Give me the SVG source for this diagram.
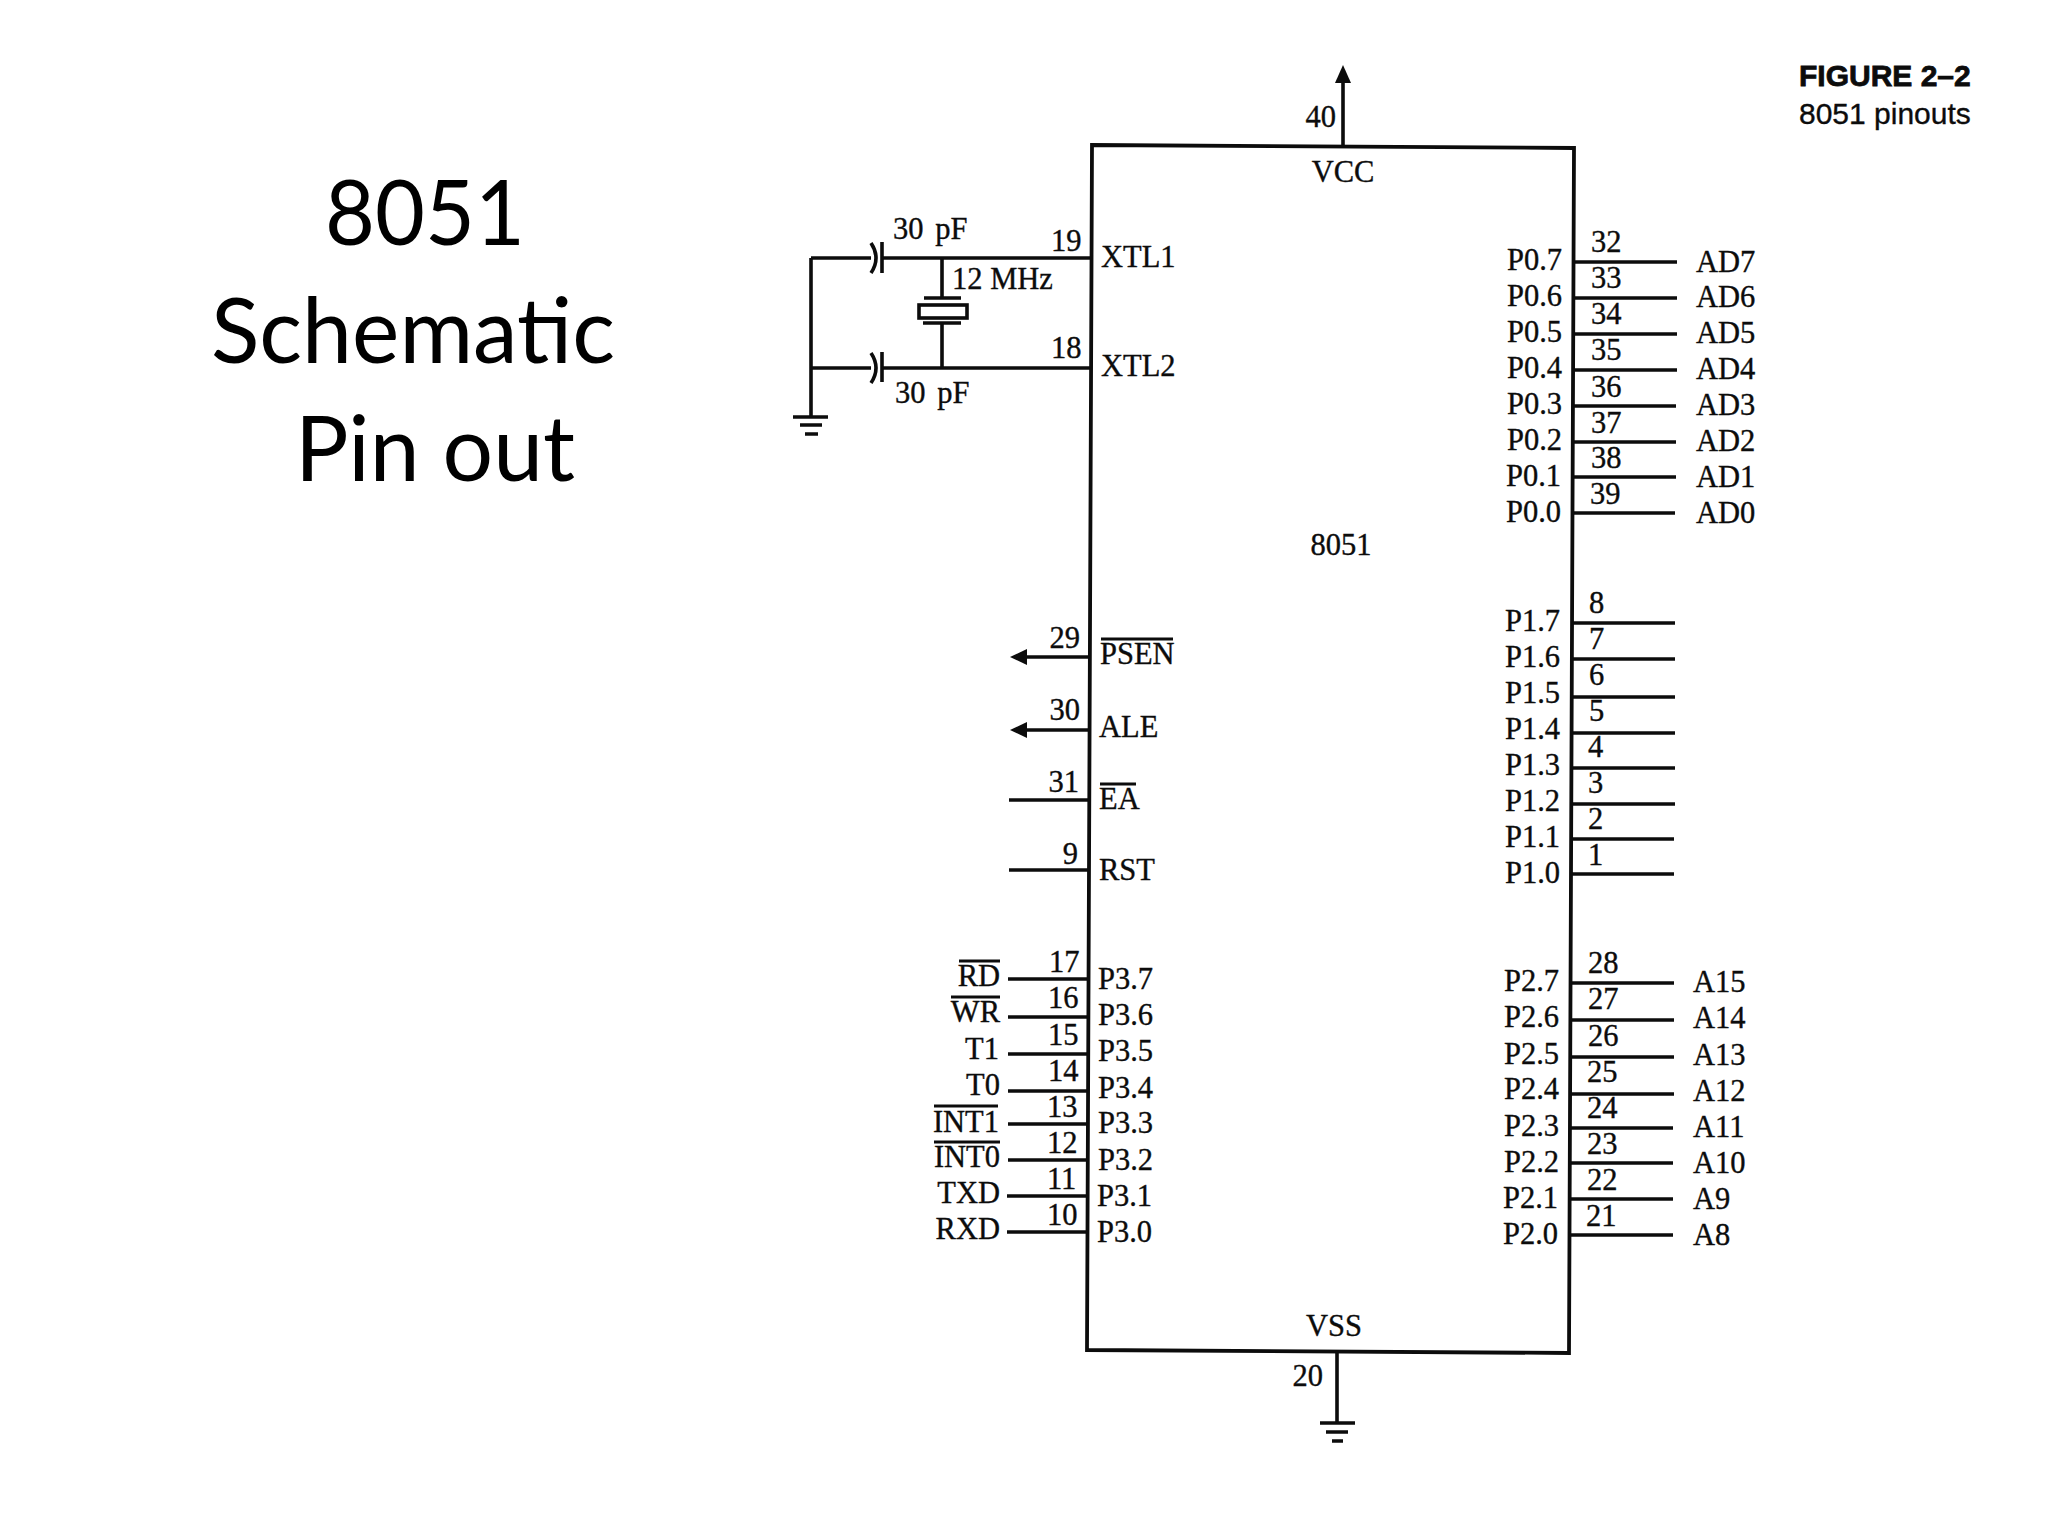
<svg xmlns="http://www.w3.org/2000/svg" width="2048" height="1536" viewBox="0 0 2048 1536">
<style>
text{font-family:"Liberation Serif","Times New Roman",serif;font-size:30.5px;fill:#0c0c0c;stroke:#0c0c0c;stroke-width:.35}
.e{text-anchor:end}
.m{text-anchor:middle}
.t{font-family:Lato,"Noto Sans",sans-serif;font-size:92px;fill:#000;stroke:none}
.c{font-family:"Liberation Sans",Arial,sans-serif;font-size:30px}
.b{font-weight:bold;stroke-width:.8}
line,path{stroke:#0c0c0c;stroke-width:3.6;fill:none}
rect{stroke:#0c0c0c;stroke-width:3.6;fill:#fff}
.a{fill:#0c0c0c;stroke:none}
.o{stroke-width:3.2}
</style>
<rect width="2048" height="1536" fill="#fff" style="stroke:none"/>
<g id="title">
<text class="t m" x="425" y="245" textLength="200" lengthAdjust="spacingAndGlyphs">8051</text>
<text class="t" x="211" y="363" textLength="404" lengthAdjust="spacingAndGlyphs">Schematic</text>
<text class="t" x="295" y="481" textLength="280" lengthAdjust="spacingAndGlyphs">Pin out</text>
</g>
<g id="caption">
<text class="c b" x="1799" y="86">FIGURE 2–2</text>
<text class="c" x="1799" y="124">8051 pinouts</text>
</g>
<g id="connectors">
<path d="M1343 145V80"/><path class="a" d="M1343 65l8 18h-16z"/>
<path d="M811 258H871M882 258H1091M811 417V258M811 368H871M882 368H1090M942 258V298M942 323V368"/>
<path d="M1337 1352V1423"/>
<line x1="1089" y1="657" x2="1025" y2="657"/><path class="a" d="M1010 657l17-8v16z"/>
<line x1="1089" y1="730" x2="1025" y2="730"/><path class="a" d="M1010 730l17-8v16z"/>
<line x1="1089" y1="800" x2="1009" y2="800"/>
<line x1="1089" y1="870" x2="1009" y2="870"/>
<line x1="1088" y1="979" x2="1008" y2="979"/>
<line x1="1088" y1="1017" x2="1008" y2="1017"/>
<line x1="1088" y1="1054" x2="1008" y2="1054"/>
<line x1="1088" y1="1091" x2="1008" y2="1091"/>
<line x1="1088" y1="1124" x2="1008" y2="1124"/>
<line x1="1088" y1="1160" x2="1008" y2="1160"/>
<line x1="1088" y1="1196" x2="1007" y2="1196"/>
<line x1="1088" y1="1232" x2="1007" y2="1232"/>
<line x1="1574" y1="262" x2="1677" y2="262"/>
<line x1="1574" y1="298" x2="1677" y2="298"/>
<line x1="1574" y1="334" x2="1677" y2="334"/>
<line x1="1574" y1="370" x2="1677" y2="370"/>
<line x1="1574" y1="406" x2="1676" y2="406"/>
<line x1="1573" y1="442" x2="1676" y2="442"/>
<line x1="1573" y1="477" x2="1676" y2="477"/>
<line x1="1573" y1="513" x2="1675" y2="513"/>
<line x1="1572" y1="623" x2="1675" y2="623"/>
<line x1="1572" y1="659" x2="1675" y2="659"/>
<line x1="1572" y1="697" x2="1675" y2="697"/>
<line x1="1572" y1="733" x2="1675" y2="733"/>
<line x1="1572" y1="768" x2="1675" y2="768"/>
<line x1="1572" y1="804" x2="1675" y2="804"/>
<line x1="1572" y1="839" x2="1674" y2="839"/>
<line x1="1572" y1="874" x2="1674" y2="874"/>
<line x1="1570" y1="983" x2="1674" y2="983"/>
<line x1="1570" y1="1020" x2="1674" y2="1020"/>
<line x1="1570" y1="1057" x2="1674" y2="1057"/>
<line x1="1570" y1="1094" x2="1674" y2="1094"/>
<line x1="1570" y1="1128" x2="1673" y2="1128"/>
<line x1="1570" y1="1163" x2="1673" y2="1163"/>
<line x1="1570" y1="1199" x2="1673" y2="1199"/>
<line x1="1570" y1="1235" x2="1673" y2="1235"/>
</g>
<g id="chip">
<path style="stroke-width:3.8" d="M1092 145L1574 148L1569 1353L1087 1350Z"/>
<text class="m" x="1343" y="182">VCC</text>
<text class="e" x="1336" y="127">40</text>
<text class="m" x="1341" y="555">8051</text>
<text class="m" x="1334" y="1336">VSS</text>
<text class="e" x="1323" y="1386">20</text>
<text x="1051" y="251">19</text><text x="1101" y="267">XTL1</text>
<text x="1051" y="358">18</text><text x="1101" y="376">XTL2</text>
<text class="e" x="1080" y="648">29</text><text x="1100" y="664">PSEN</text><line class="o" x1="1101" y1="639" x2="1173" y2="639"/>
<text class="e" x="1080" y="720">30</text><text x="1099" y="737">ALE</text>
<text class="e" x="1079" y="792">31</text><text x="1099" y="809">EA</text><line class="o" x1="1100" y1="784" x2="1136" y2="784"/>
<text class="e" x="1078" y="864">9</text><text x="1099" y="880">RST</text>
<text x="1049" y="972">17</text><text x="1098" y="989">P3.7</text><text class="e" x="1000" y="986">RD</text><line class="o" x1="959" y1="961" x2="1000" y2="961"/>
<text x="1048" y="1008">16</text><text x="1098" y="1025">P3.6</text><text class="e" x="1000" y="1022">WR</text><line class="o" x1="951" y1="997" x2="1000" y2="997"/>
<text x="1048" y="1045">15</text><text x="1098" y="1061">P3.5</text><text class="e" x="999" y="1059">T1</text>
<text x="1048" y="1081">14</text><text x="1098" y="1098">P3.4</text><text class="e" x="1000" y="1095">T0</text>
<text x="1047" y="1117">13</text><text x="1098" y="1133">P3.3</text><text class="e" x="999" y="1132">INT1</text><line class="o" x1="934" y1="1106" x2="998" y2="1106"/>
<text x="1047" y="1153">12</text><text x="1098" y="1170">P3.2</text><text class="e" x="1000" y="1167">INT0</text><line class="o" x1="934" y1="1142" x2="1000" y2="1142"/>
<text x="1047" y="1189">11</text><text x="1097" y="1206">P3.1</text><text class="e" x="1000" y="1203">TXD</text>
<text x="1047" y="1225">10</text><text x="1097" y="1242">P3.0</text><text class="e" x="1000" y="1239">RXD</text>
<text x="1591" y="252">32</text><text x="1507" y="270">P0.7</text><text x="1696" y="272">AD7</text>
<text x="1591" y="288">33</text><text x="1507" y="306">P0.6</text><text x="1696" y="307">AD6</text>
<text x="1591" y="324">34</text><text x="1507" y="342">P0.5</text><text x="1696" y="343">AD5</text>
<text x="1591" y="360">35</text><text x="1507" y="378">P0.4</text><text x="1696" y="379">AD4</text>
<text x="1591" y="397">36</text><text x="1507" y="414">P0.3</text><text x="1696" y="415">AD3</text>
<text x="1591" y="433">37</text><text x="1507" y="450">P0.2</text><text x="1696" y="451">AD2</text>
<text x="1591" y="468">38</text><text x="1506" y="486">P0.1</text><text x="1696" y="487">AD1</text>
<text x="1590" y="504">39</text><text x="1506" y="522">P0.0</text><text x="1696" y="523">AD0</text>
<text x="1589" y="613">8</text><text x="1505" y="631">P1.7</text>
<text x="1589" y="649">7</text><text x="1505" y="667">P1.6</text>
<text x="1589" y="685">6</text><text x="1505" y="703">P1.5</text>
<text x="1589" y="721">5</text><text x="1505" y="739">P1.4</text>
<text x="1588" y="757">4</text><text x="1505" y="775">P1.3</text>
<text x="1588" y="793">3</text><text x="1505" y="811">P1.2</text>
<text x="1588" y="829">2</text><text x="1505" y="847">P1.1</text>
<text x="1588" y="865">1</text><text x="1505" y="883">P1.0</text>
<text x="1588" y="973">28</text><text x="1504" y="991">P2.7</text><text x="1693" y="992">A15</text>
<text x="1588" y="1009">27</text><text x="1504" y="1027">P2.6</text><text x="1693" y="1028">A14</text>
<text x="1588" y="1046">26</text><text x="1504" y="1064">P2.5</text><text x="1693" y="1065">A13</text>
<text x="1587" y="1082">25</text><text x="1504" y="1099">P2.4</text><text x="1693" y="1101">A12</text>
<text x="1587" y="1118">24</text><text x="1504" y="1136">P2.3</text><text x="1693" y="1137">A11</text>
<text x="1587" y="1154">23</text><text x="1504" y="1172">P2.2</text><text x="1693" y="1173">A10</text>
<text x="1587" y="1190">22</text><text x="1503" y="1208">P2.1</text><text x="1693" y="1209">A9</text>
<text x="1586" y="1226">21</text><text x="1503" y="1244">P2.0</text><text x="1693" y="1245">A8</text>
</g>
<g id="crystal">
<path d="M924 298H961M923 323H961"/>
<rect x="919" y="305" width="48" height="13"/>
<text x="952" y="289">12 MHz</text>
</g>
<g id="cap-c1">
<path d="M871 243Q881 258 871 273M882 242V273"/>
<text x="893" y="239" style="word-spacing:4px">30 pF</text>
</g>
<g id="cap-c2">
<path d="M871 353Q881 368 871 383M882 352V382"/>
<text x="895" y="403" style="word-spacing:4px">30 pF</text>
</g>
<g id="gnd-osc"><path d="M793 417H828M800 425H822M805 434H818"/></g>
<g id="gnd-vss"><path d="M1320 1423H1355M1326 1432H1348M1332 1441H1343"/></g>
</svg>
